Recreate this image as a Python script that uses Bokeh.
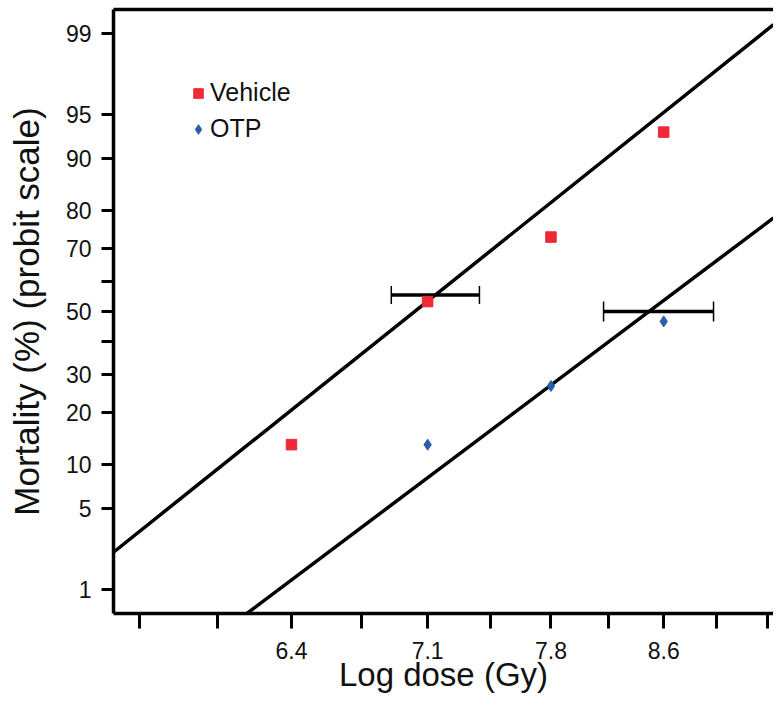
import numpy as np
from statistics import NormalDist
from bokeh.plotting import figure
from bokeh.models import (Range1d, FixedTicker, CustomJSTickFormatter, LinearAxis,
                          ColumnDataSource, Whisker, TeeHead, Legend)
from bokeh.embed import file_html
from bokeh.resources import INLINE

# ---------------- data ----------------
vehicle_dose = [6.4, 7.1, 7.8, 8.5]
vehicle_mort = [13.3, 53.3, 73.3, 93.3]
otp_dose = [7.1, 7.8, 8.5]
otp_mort = [13.3, 26.7, 46.7]

# fitted probit lines: probit = slope * (ln(dose) - ln(LD50))
vehicle_ld50, vehicle_slope = 7.03, 8.76
otp_ld50, otp_slope = 8.405, 8.23

# LD50 confidence intervals (dose low, dose high, mortality level)
vehicle_ci = (6.906, 7.386, 55.5)
otp_ci = (8.119, 8.829, 50.0)

x_tick_dose = [5.7, 6.05, 6.4, 6.75, 7.1, 7.45, 7.8, 8.15, 8.5, 8.85, 9.2]
x_tick_labels = ["", "", "6.4", "", "7.1", "", "7.8", "", "8.6", "", ""]
y_tick_pct = [1, 5, 10, 20, 30, 40, 50, 60, 70, 80, 90, 95, 99]
y_tick_labels = ["1", "5", "10", "20", "30", "", "50", "", "70", "80", "90", "95", "99"]

dose_limits = (5.588, 9.242)
pct_limits = (0.582, 99.418)

# ---------------- transforms ----------------
nd = NormalDist()
def probit(p):
    return nd.inv_cdf(p / 100.0)

lx = lambda d: float(np.log(d))

FONT = "Liberation Sans"
RED = "#EE2A36"
BLUE = "#2B5BAA"

p = figure(width=773, height=698, output_backend="svg", toolbar_location=None,
           x_range=Range1d(lx(dose_limits[0]), lx(dose_limits[1])),
           y_range=Range1d(probit(pct_limits[0]), probit(pct_limits[1])),
           min_border_left=113, min_border_right=0, min_border_top=9, min_border_bottom=85)
p.outline_line_color = None
p.xgrid.visible = False
p.ygrid.visible = False
p.background_fill_color = "white"

# fitted lines
x0, x1 = p.x_range.start, p.x_range.end
for ld50, slope in [(vehicle_ld50, vehicle_slope), (otp_ld50, otp_slope)]:
    xs = [x0, x1]
    ys = [slope * (x - lx(ld50)) for x in xs]
    p.line(xs, ys, line_color="black", line_width=3.5)

# error bars
for (lo, hi, lev), cap in [(vehicle_ci, 18), (otp_ci, 20)]:
    src = ColumnDataSource(dict(base=[probit(lev)], lower=[lx(lo)], upper=[lx(hi)]))
    w = Whisker(source=src, base="base", lower="lower", upper="upper", dimension="width",
                line_color="black", line_width=3.5,
                lower_head=TeeHead(size=cap, line_width=1.5, line_color="black"),
                upper_head=TeeHead(size=cap, line_width=1.5, line_color="black"))
    p.add_layout(w)

r_v = p.scatter([lx(d) for d in vehicle_dose], [probit(m) for m in vehicle_mort],
                marker="square", size=10.5, fill_color=RED, line_color=RED)
r_o = p.scatter([lx(d) for d in otp_dose], [probit(m) for m in otp_mort],
                marker="diamond", size=11, fill_color=BLUE, line_color=BLUE)

legend = Legend(items=[("Vehicle", [r_v]), ("OTP", [r_o])], location=(73, 470),
                border_line_color=None, background_fill_alpha=0,
                label_text_font=FONT, label_text_font_size="25px",
                label_text_color="#111111",
                glyph_width=24, glyph_height=24, label_standoff=0,
                spacing=7, padding=0, margin=0)
p.add_layout(legend, "center")

# x axis
xt = [lx(d) for d in x_tick_dose]
xa = p.xaxis[0]
xa.ticker = FixedTicker(ticks=xt)
xa.formatter = CustomJSTickFormatter(args=dict(t=xt, l=x_tick_labels), code="""
let best = 0, bd = 1e9;
for (let i = 0; i < t.length; i++) { const d = Math.abs(t[i] - tick); if (d < bd) { bd = d; best = i; } }
return l[best];
""")
xa.axis_label = "Log dose (Gy)"

# y axis
yt = [probit(v) for v in y_tick_pct]
ya = p.yaxis[0]
ya.ticker = FixedTicker(ticks=yt)
ya.formatter = CustomJSTickFormatter(args=dict(t=yt, l=y_tick_labels), code="""
let best = 0, bd = 1e9;
for (let i = 0; i < t.length; i++) { const d = Math.abs(t[i] - tick); if (d < bd) { bd = d; best = i; } }
return l[best];
""")
ya.axis_label = "Mortality (%) (probit scale)"

for ax, tout, std, lstd, lsize in [(xa, 15, 13, -6, "33px"), (ya, 12, 10, 17, "35px")]:
    ax.axis_line_width = 3.5
    ax.axis_line_color = "black"
    ax.major_tick_line_width = 3
    ax.major_tick_line_color = "black"
    ax.major_tick_out = tout
    ax.major_tick_in = 0
    ax.minor_tick_line_color = None
    ax.major_label_text_font = FONT
    ax.major_label_text_font_size = "23px"
    ax.major_label_text_color = "#111111"
    ax.major_label_standoff = std
    ax.axis_label_text_font = FONT
    ax.axis_label_text_font_size = lsize
    ax.axis_label_text_font_style = "normal"
    ax.axis_label_text_color = "#111111"
    ax.axis_label_standoff = lstd

ya.major_label_orientation = "horizontal"

# top frame line
top = LinearAxis(ticker=FixedTicker(ticks=[]), major_label_text_font_size="0px",
                 axis_line_width=3.5, axis_line_color="black",
                 major_tick_line_color=None, minor_tick_line_color=None,
                 major_label_standoff=0)
p.add_layout(top, "above")

open("out.html", "w").write(file_html(p, INLINE))
